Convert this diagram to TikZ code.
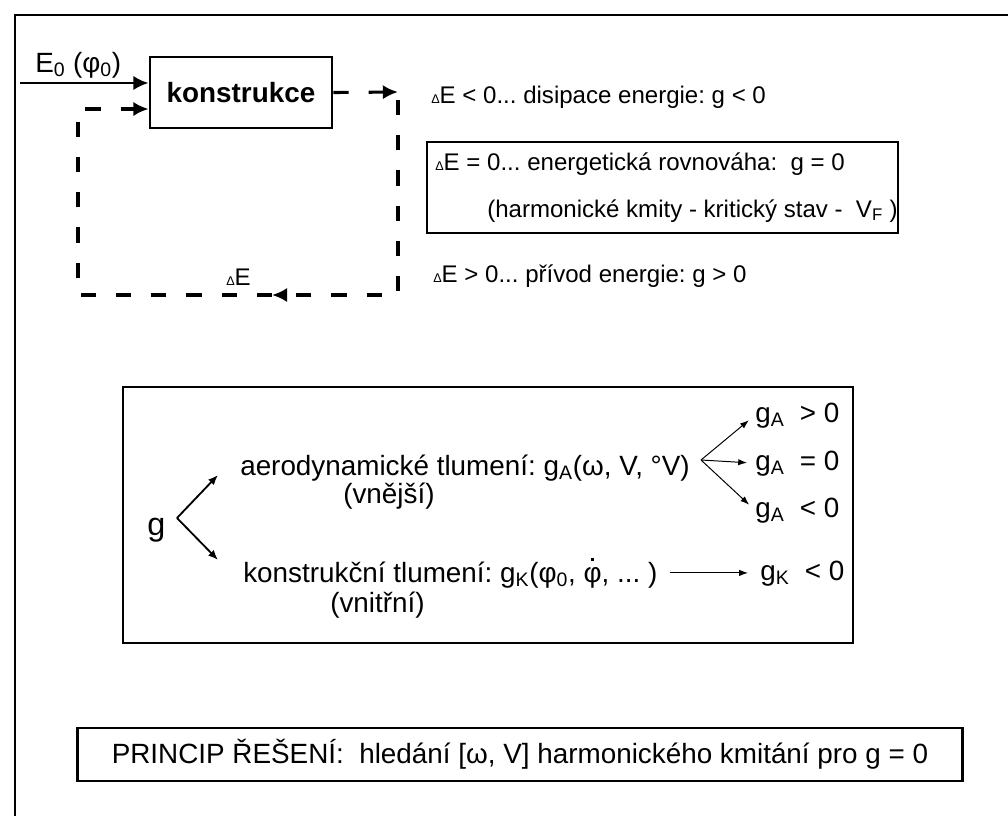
\documentclass[tikz,border=0pt]{standalone}
\usepackage{fontspec}
\setmainfont{Liberation Sans}
\usetikzlibrary{arrows.meta}
\frenchspacing

\newcommand{\smalldelta}{{\fontsize{9pt}{9pt}\selectfont Δ}}
\newcommand{\phidot}{{\setbox0\hbox{φ}\hbox to \wd0{\hss\raisebox{0.76em}{\rule{0.1em}{0.1em}}\hss}\kern-\wd0\box0}}

\begin{document}
\begin{tikzpicture}[
  x=0.025cm, y=-0.025cm,
  font=\fontsize{19.8pt}{23pt}\selectfont,
  txt/.style={anchor=base west, inner sep=0pt},
  rtxt/.style={txt, font=\fontsize{17.1pt}{20pt}\selectfont},
  block/.style={draw, line width=2pt, minimum width=4.55cm, minimum height=1.775cm, font=\fontsize{19.8pt}{23pt}\selectfont\bfseries},
  frame/.style={draw, inner sep=0pt},
  arrow/.style={-{Latex[length=0.38cm, width=0.36cm]}, line width=2pt},
  dashline/.style={line width=2.2pt, dash pattern=on 0.38cm off 0.5cm},
  dasharrow/.style={arrow, dashline},
  thinarrow/.style={-{Latex[length=0.22cm, width=0.16cm]}, line width=0.7pt},
  garrow/.style={-{Latex[length=0.25cm, width=0.2cm]}, line width=1.3pt}
]
\fill[white] (0,0) rectangle (1008,816);
\useasboundingbox (0,0) rectangle (1008,816);

\draw[line width=1.8pt] (15,816) -- (15,15) -- (1008,15);

\node[block] (konstr) at (241,92.5) {konstrukce};
\node[txt] (e0) at (35,72) {E\textsubscript{0} (φ\textsubscript{0})};
\coordinate (src) at (20,83);
\draw[arrow] (src) -- (src -| konstr.west);

\coordinate (ne) at (398,92);
\coordinate (ne2) at (398,100);
\coordinate (se) at (398,295);
\coordinate (mid) at (272,295);
\coordinate (sw) at (78,295);
\coordinate (nw) at (78,109);
\draw[dasharrow] (konstr.east) -- (ne);
\draw[dasharrow] (ne2) -- (se) -- (mid);
\draw[dasharrow] (mid) -- (sw) -- (nw) -- (nw -| konstr.west);
\node[rtxt] (dE) at (226,285) {\smalldelta E};

\node[rtxt] (neg) at (431,103) {\smalldelta E < 0... disipace energie: g < 0};
\node[frame, line width=1.2pt, minimum width=11.775cm, minimum height=2.275cm] (rovbox) at (662.5,187.5) {};
\node[rtxt] (rov) at (435,170) {\smalldelta E = 0... energetická rovnováha:\ \ g = 0};
\node[rtxt] (harm) at (487,217) {(harmonické kmity - kritický stav -\ \ V\textsubscript{F} )};
\node[rtxt] (pos) at (433,282) {\smalldelta E > 0... přívod energie: g > 0};

\node[frame, line width=1.5pt, minimum width=18.25cm, minimum height=6.4cm] (tlum) at (488,515) {};
\node[txt, font=\fontsize{23pt}{26pt}\selectfont] (g) at (147,535) {g};
\node[txt] (aero) at (240,475) {aerodynamické tlumení: g\textsubscript{A}(ω, V, °V)};
\node[txt] (vnej) at (343,503) {(vnější)};
\node[txt] (kon) at (243,582) {konstrukční tlumení: g\textsubscript{K}(φ\textsubscript{0}, \phidot, ... )};
\node[txt] (vnit) at (330,612) {(vnitřní)};
\coordinate (gsrc) at (177,518);
\coordinate (gup) at (218,475);
\coordinate (gdn) at (218,560);
\draw[garrow] (gsrc) -- (gup);
\draw[garrow] (gsrc) -- (gdn);

\node[txt] (gp) at (755,422) {g\textsubscript{A}\ \ > 0};
\node[txt] (gz) at (755,470) {g\textsubscript{A}\ \ = 0};
\node[txt] (gn) at (755,517) {g\textsubscript{A}\ \ < 0};
\node[txt] (gk) at (760,580) {g\textsubscript{K}\ \ < 0};
\coordinate (fan) at (701,460);
\draw[thinarrow, shorten >=0.2cm] (fan) -- (gp.west);
\draw[thinarrow, shorten >=0.2cm] (fan) -- (gz.west);
\draw[thinarrow, shorten >=0.2cm] (fan) -- (gn.west);
\draw[thinarrow, shorten <=0.3cm, shorten >=0.3cm] (kon.east) -- (gk.west |- kon.east);

\node[draw, line width=2pt, minimum width=22.1cm, minimum height=1.325cm] (princip) at (520,754.5) {PRINCIP ŘEŠENÍ:\ \ hledání [ω, V] harmonického kmitání pro g = 0};
\end{tikzpicture}
\end{document}
